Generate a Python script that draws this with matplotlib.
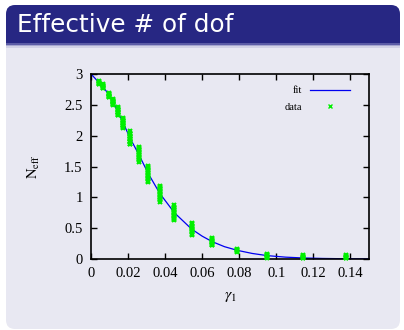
import numpy as np
import matplotlib.pyplot as plt
from matplotlib.patches import FancyBboxPatch, Rectangle

plt.rcParams['mathtext.fontset'] = 'stix'

# measured N_eff spread at each gamma_1
gammas = [0.0045, 0.0063, 0.0099, 0.012, 0.0144, 0.0174, 0.021, 0.0257,
          0.031, 0.0372, 0.045, 0.0543, 0.0655, 0.079, 0.095, 0.1144, 0.1375]
neff = [
    [2.88, 2.87, 2.86, 2.85, 2.84, 2.83],
    [2.83, 2.82, 2.81, 2.80, 2.79, 2.78, 2.77],
    [2.69, 2.68, 2.67, 2.66, 2.65, 2.64, 2.63, 2.62],
    [2.59, 2.58, 2.57, 2.56, 2.55, 2.54, 2.53, 2.52, 2.51, 2.50],
    [2.46, 2.45, 2.43, 2.42, 2.41, 2.39, 2.38, 2.37, 2.35, 2.34, 2.33],
    [2.29, 2.27, 2.26, 2.24, 2.23, 2.21, 2.20, 2.18, 2.17, 2.15, 2.14, 2.12],
    [2.07, 2.05, 2.03, 2.02, 2.00, 1.98, 1.97, 1.95, 1.94, 1.92, 1.90,
     1.89, 1.87, 1.86],
    [1.82, 1.80, 1.78, 1.76, 1.74, 1.72, 1.70, 1.68, 1.66, 1.64, 1.62,
     1.60, 1.58],
    [1.51, 1.49, 1.47, 1.45, 1.43, 1.41, 1.39, 1.37, 1.35, 1.33, 1.31,
     1.29, 1.27, 1.25],
    [1.19, 1.17, 1.15, 1.13, 1.11, 1.09, 1.07, 1.05, 1.03, 1.01, 0.99,
     0.97, 0.95, 0.93],
    [0.87, 0.85, 0.83, 0.81, 0.79, 0.77, 0.75, 0.73, 0.71, 0.69, 0.67,
     0.65, 0.63],
    [0.58, 0.56, 0.54, 0.52, 0.50, 0.48, 0.47, 0.45, 0.43, 0.41, 0.39],
    [0.34, 0.32, 0.31, 0.29, 0.28, 0.26, 0.25, 0.23, 0.22],
    [0.16, 0.15, 0.14, 0.13, 0.12],
    [0.08, 0.07, 0.06, 0.05, 0.04, 0.03, 0.02],
    [0.06, 0.05, 0.04, 0.03, 0.02, 0.01],
    [0.06, 0.05, 0.04, 0.03, 0.02, 0.01],
]

# fitted curve
fit_g = [0.0, 0.0045, 0.0063, 0.0099, 0.012, 0.0144, 0.0174, 0.021, 0.0257,
         0.031, 0.0372, 0.045, 0.0543, 0.06, 0.0655, 0.072, 0.079, 0.087,
         0.095, 0.105, 0.1144, 0.125, 0.1375, 0.15]
fit_n = [3.0, 2.855, 2.80, 2.655, 2.545, 2.395, 2.205, 1.965, 1.70,
         1.38, 1.06, 0.75, 0.485, 0.37, 0.28, 0.20, 0.14, 0.09,
         0.055, 0.03, 0.017, 0.009, 0.004, 0.002]

W, H = 404, 330
fig = plt.figure(figsize=(W / 100, H / 100), dpi=100)

# slide block: title bar + body
bg = fig.add_axes([0, 0, 1, 1])
bg.set_xlim(0, W)
bg.set_ylim(H, 0)
bg.axis('off')
bg.add_patch(FancyBboxPatch((6, 20), 394, 309, boxstyle='round,pad=0,rounding_size=9',
                            fc='#e8e8f2', ec='none'))
bg.add_patch(FancyBboxPatch((6, 5), 394, 38, boxstyle='round,pad=0,rounding_size=9',
                            fc='#272783', ec='none'))
bg.add_patch(Rectangle((6, 25), 394, 18, fc='#272783', ec='none'))
bg.add_patch(Rectangle((6, 43), 394, 1.5, fc='#5c5ca6', ec='none'))
bg.add_patch(Rectangle((6, 44.5), 394, 1.5, fc='#a6a6cf', ec='none'))
bg.add_patch(Rectangle((6, 46), 394, 1.5, fc='#d2d2e6', ec='none'))
bg.text(17, 25, 'Effective # of dof', color='white', fontsize=17.8,
        family='DejaVu Sans', va='center', ha='left')

ax = fig.add_axes([91 / W, 1 - 259 / H, 278 / W, 185 / H])
ax.patch.set_alpha(0)

ax.plot(fit_g, fit_n, color='#0000f0', lw=0.9, label='fit', zorder=2)
for i, (g, vals) in enumerate(zip(gammas, neff)):
    ax.plot([g] * len(vals), vals, ls='none', marker='x', ms=3.5, mew=1.5,
            color='#00f000', clip_on=False, zorder=3,
            label='data' if i == 0 else None)

ax.set_xlim(0, 0.15)
ax.set_ylim(0, 3)
ax.set_xticks(np.arange(0, 0.141, 0.02))
ax.set_xticklabels(['0', '0.02', '0.04', '0.06', '0.08', '0.1', '0.12', '0.14'])
ax.set_yticks(np.arange(0, 3.01, 0.5))
ax.set_yticklabels(['0', '0.5', '1', '1.5', '2', '2.5', '3'])
ax.tick_params(direction='in', length=4, width=1, top=True, right=True,
               labelsize=10.5, pad=6)
for lab in ax.get_xticklabels() + ax.get_yticklabels():
    lab.set_family('Liberation Serif')
for s in ax.spines.values():
    s.set_linewidth(1.2)

ax.set_xlabel(r'$\gamma_1$', fontsize=11.5, labelpad=6)
ax.set_ylabel(r'$\mathrm{N}_{\mathrm{eff}}$', fontsize=10.5, labelpad=16)

leg = ax.legend(loc='upper right', bbox_to_anchor=(0.965, 0.985), frameon=False,
                markerfirst=False, handlelength=3.8,
                prop={'family': 'Liberation Serif', 'size': 7.5}, labelspacing=0.7)
leg.legend_handles[1].set_markersize(3)
leg.legend_handles[1].set_markeredgewidth(1)

fig.savefig('out.png', dpi=100)
